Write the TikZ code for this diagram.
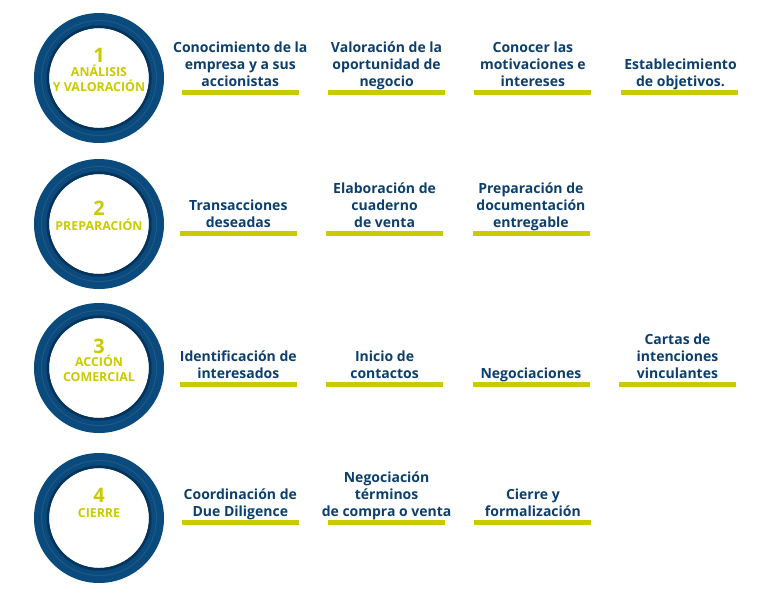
\documentclass[tikz,border=0pt]{standalone}
\usepackage{fontspec}
\setmainfont{Open Sans}
\definecolor{ringblue}{HTML}{0A4A7C}
\definecolor{ringdark}{HTML}{05335A}
\definecolor{ringlight}{HTML}{4A7CA4}
\definecolor{txtblue}{HTML}{0C3F6D}
\definecolor{lime}{HTML}{CACA00}

\begin{document}
\begin{tikzpicture}[x=1pt,y=1pt,
		ring/.style={fill=ringblue,even odd rule},
		numtxt/.style={lime,inner sep=0,anchor=base,font=\fontsize{20}{20}\selectfont\bfseries},
		phasetxt/.style={lime,inner sep=0,anchor=south,align=center,font=\fontsize{12.4}{15}\selectfont\bfseries},
		itemtxt/.style={txtblue,inner sep=0,anchor=south,align=center,font=\fontsize{14}{17}\selectfont\bfseries},
		bar/.style={fill=lime}]
			\useasboundingbox (0,0) rectangle (760,-606);

			% rings
			\fill[ring] (99,-78) circle (65) circle (50);
			\draw[ringlight,line width=1,opacity=0.3] (99,-78) circle (57.5);
			\draw[ringdark,line width=2.5] (99,-78) circle (51.3);
			\fill[ring] (99,-224) circle (65) circle (50);
			\draw[ringlight,line width=1,opacity=0.3] (99,-224) circle (57.5);
			\draw[ringdark,line width=2.5] (99,-224) circle (51.3);
			\fill[ring] (99,-368) circle (65) circle (50);
			\draw[ringlight,line width=1,opacity=0.3] (99,-368) circle (57.5);
			\draw[ringdark,line width=2.5] (99,-368) circle (51.3);
			\fill[ring] (99,-518) circle (65) circle (50);
			\draw[ringlight,line width=1,opacity=0.3] (99,-518) circle (57.5);
			\draw[ringdark,line width=2.5] (99,-518) circle (51.3);

			\node[numtxt] (num1) at (99,-62.5) {1};
			\node[phasetxt] (ph1) at (99,-96.5) {ANÁLISIS\\Y VALORACIÓN\strut};
			\node[numtxt] (num2) at (99,-215.5) {2};
			\node[phasetxt] (ph2) at (99,-235.5) {PREPARACIÓN\strut};
			\node[numtxt] (num3) at (99,-353.5) {3};
			\node[phasetxt] (ph3) at (99,-386.5) {ACCIÓN\\COMERCIAL\strut};
			\node[numtxt] (num4) at (99,-502.5) {4};
			\node[phasetxt] (ph4) at (99,-522.5) {CIERRE\strut};

			% row 1
			\node[itemtxt] (it11) at (240.3,-91.6) {Conocimiento de la\strut\\empresa y a sus\strut\\accionistas\strut};
			\node[itemtxt] (it12) at (386.6,-91.6) {Valoración de la\strut\\oportunidad de\strut\\negocio\strut};
			\node[itemtxt] (it13) at (532.9,-91.6) {Conocer las\strut\\motivaciones e\strut\\intereses\strut};
			\node[itemtxt] (it14) at (680.5,-91.6) {Establecimiento\strut\\de objetivos.\strut};
			\fill[bar] (181.7,-90) rectangle ++(117,-4.6);
			\fill[bar] (328,-90) rectangle ++(117,-4.6);
			\fill[bar] (474.3,-90) rectangle ++(117,-4.6);
			\fill[bar] (620.7,-90) rectangle ++(117,-4.6);

			% row 2
			\node[itemtxt] (it21) at (238.3,-232.6) {Transacciones\strut\\deseadas\strut};
			\node[itemtxt] (it22) at (384.6,-232.6) {Elaboración de\strut\\cuaderno\strut\\de venta\strut};
			\node[itemtxt] (it23) at (530.9,-232.6) {Preparación de\strut\\documentación\strut\\entregable\strut};
			\fill[bar] (180,-231) rectangle ++(117,-4.6);
			\fill[bar] (326.3,-231) rectangle ++(117,-4.6);
			\fill[bar] (472.6,-231) rectangle ++(117,-4.6);

			% row 3
			\node[itemtxt] (it31) at (238.3,-383.9) {Identificación de\strut\\interesados\strut};
			\node[itemtxt] (it32) at (384.6,-383.9) {Inicio de\strut\\contactos\strut};
			\node[itemtxt] (it33) at (530.9,-383.9) {Negociaciones\strut};
			\node[itemtxt] (it34) at (677.5,-383.9) {Cartas de\strut\\intenciones\strut\\vinculantes\strut};
			\fill[bar] (180,-382.3) rectangle ++(117,-4.6);
			\fill[bar] (326.3,-382.3) rectangle ++(117,-4.6);
			\fill[bar] (472.6,-382.3) rectangle ++(117,-4.6);
			\fill[bar] (619,-382.3) rectangle ++(117,-4.6);

			% row 4
			\node[itemtxt] (it41) at (240.3,-521.6) {Coordinación de\strut\\Due Diligence\strut};
			\node[itemtxt] (it42) at (386.6,-521.6) {Negociación\strut\\términos\strut\\de compra o venta\strut};
			\node[itemtxt] (it43) at (532.9,-521.6) {Cierre y\strut\\formalización\strut};
			\fill[bar] (181.7,-520) rectangle ++(117,-4.6);
			\fill[bar] (328,-520) rectangle ++(117,-4.6);
			\fill[bar] (474.3,-520) rectangle ++(117,-4.6);
		\end{tikzpicture}
\end{document}
